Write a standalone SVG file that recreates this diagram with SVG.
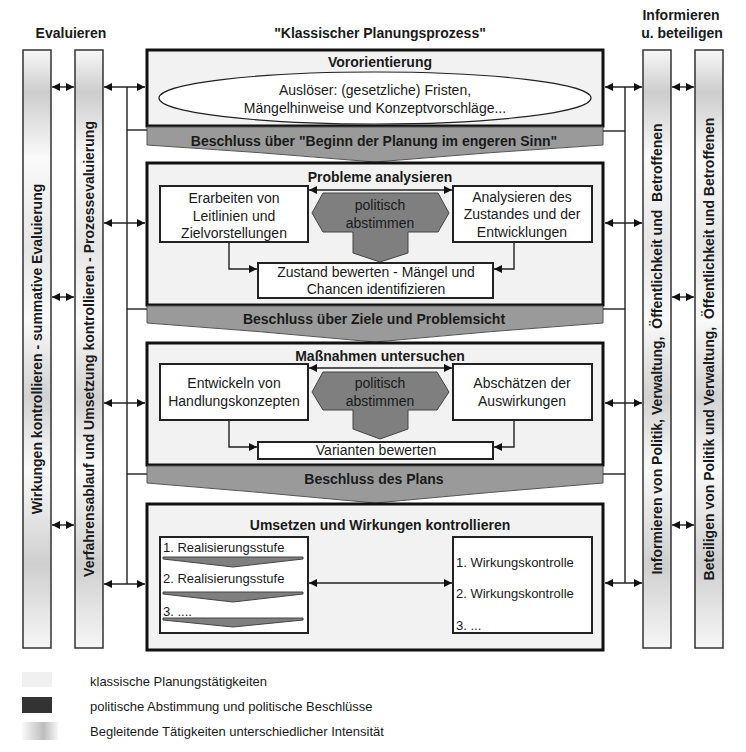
<svg xmlns="http://www.w3.org/2000/svg" width="746" height="752" viewBox="0 0 746 752">
<style>
text{font-family:"Liberation Sans",Arial,sans-serif;fill:#1a1a1a}
.h{font-size:14px;font-weight:bold;text-anchor:middle}
.t{font-size:14px;text-anchor:middle}
.s{font-size:13px}
.v{font-size:14px;font-weight:bold;text-anchor:middle;white-space:pre}
.main{fill:#f2f2f2;stroke:#111;stroke-width:3}
.wb{fill:#fff;stroke:#222;stroke-width:2}
.ban{fill:#9a9a9a;stroke:#555;stroke-width:1}
.pol{fill:#7f7f7f;stroke:#444;stroke-width:1}
.bar{stroke:#333;stroke-width:1.5}
.c{fill:none;stroke:#222;stroke-width:1.4}
.a{marker-start:url(#ah);marker-end:url(#ah)}
.e{marker-end:url(#ah)}
</style>
<defs>
<marker id="ah" viewBox="0 0 8 8" refX="8" refY="4" markerWidth="8" markerHeight="8" markerUnits="userSpaceOnUse" orient="auto-start-reverse"><path d="M0,0 L8,4 L0,8 z" fill="#111"/></marker>
<linearGradient id="gb" x1="0" y1="0" x2="0" y2="1">
<stop offset="0" stop-color="#f8f8f8"/>
<stop offset="0.07" stop-color="#cdcdcd"/>
<stop offset="0.18" stop-color="#fafafa"/>
<stop offset="0.33" stop-color="#e6e6e6"/>
<stop offset="0.45" stop-color="#fafafa"/>
<stop offset="0.58" stop-color="#d2d2d2"/>
<stop offset="0.7" stop-color="#fafafa"/>
<stop offset="0.86" stop-color="#cfcfcf"/>
<stop offset="1" stop-color="#f6f6f6"/>
</linearGradient>
<linearGradient id="gl" x1="0" y1="0" x2="1" y2="0">
<stop offset="0" stop-color="#fafafa"/>
<stop offset="0.6" stop-color="#bdbdbd"/>
<stop offset="1" stop-color="#f6f6f6"/>
</linearGradient>
</defs>

<g id="headers">
<text class="h" x="71" y="38">Evaluieren</text>
<text class="h" x="380" y="38">"Klassischer Planungsprozess"</text>
<text class="h" x="681" y="20">Informieren</text>
<text class="h" x="682" y="38">u. beteiligen</text>
</g>

<g id="bar-summativ">
<rect class="bar" x="23" y="50" width="28" height="598" fill="url(#gb)"/>
<text class="v" transform="translate(42,349) rotate(-90)">Wirkungen kontrollieren - summative Evaluierung</text>
</g>
<g id="bar-prozess">
<rect class="bar" x="75" y="50" width="28" height="598" fill="url(#gb)"/>
<text class="v" transform="translate(94,349) rotate(-90)">Verfahrensablauf und Umsetzung kontrollieren - Prozessevaluierung</text>
</g>
<g id="bar-informieren">
<rect class="bar" x="643" y="50" width="28" height="598" fill="url(#gb)"/>
<text class="v" transform="translate(662,349) rotate(-90)">Informieren von Politik, Verwaltung,  Öffentlichkeit und  Betroffenen</text>
</g>
<g id="bar-beteiligen">
<rect class="bar" x="695" y="50" width="28" height="598" fill="url(#gb)"/>
<text class="v" transform="translate(714,349) rotate(-90)">Beteiligen von Politik und Verwaltung,  Öffentlichkeit und Betroffenen</text>
</g>

<g id="vororientierung">
<rect class="main" x="147" y="50" width="456" height="76"/>
<text class="h" x="380" y="67">Vororientierung</text>
<ellipse cx="375" cy="98" rx="216" ry="26" fill="#fff" stroke="#222" stroke-width="1.2"/>
<text class="t" x="375" y="95">Auslöser: (gesetzliche) Fristen,</text>
<text class="t" x="375" y="113">Mängelhinweise und Konzeptvorschläge...</text>
</g>

<g id="beschluss-beginn">
<path class="ban" d="M147,127 L603,127 L603,145 Q490,152 375,162 Q260,152 147,145 Z"/>
<text class="h" x="374" y="146">Beschluss über "Beginn der Planung im engeren Sinn"</text>
</g>

<g id="probleme">
<rect class="main" x="147" y="163" width="456" height="142"/>
<text class="h" x="380" y="182">Probleme analysieren</text>
<rect class="wb" x="160" y="186" width="148" height="56"/>
<text class="t" x="234" y="203">Erarbeiten von</text>
<text class="t" x="234" y="221">Leitlinien und</text>
<text class="t" x="234" y="238">Zielvorstellungen</text>
<rect class="wb" x="453" y="186" width="139" height="56"/>
<text class="t" x="522" y="202">Analysieren des</text>
<text class="t" x="522" y="219">Zustandes und der</text>
<text class="t" x="522" y="237">Entwicklungen</text>
<polygon class="pol" points="323,193 438,193 449,213 438,232 408,232 408,253 380,262 353,253 353,232 323,232 312,213"/>
<text class="t" x="380" y="210">politisch</text>
<text class="t" x="380" y="228">abstimmen</text>
<rect class="wb" x="258" y="263" width="235" height="35"/>
<text class="t" x="376" y="277">Zustand bewerten - Mängel und</text>
<text class="t" x="376" y="294">Chancen identifizieren</text>
</g>

<g id="beschluss-ziele">
<path class="ban" d="M147,306 L603,306 L603,323 Q490,331 375,342 Q260,331 147,323 Z"/>
<text class="h" x="374" y="324">Beschluss über Ziele und Problemsicht</text>
</g>

<g id="massnahmen">
<rect class="main" x="147" y="343" width="456" height="122"/>
<text class="h" x="380" y="361">Maßnahmen untersuchen</text>
<rect class="wb" x="160" y="364" width="148" height="56"/>
<text class="t" x="234" y="388">Entwickeln von</text>
<text class="t" x="234" y="406">Handlungskonzepten</text>
<rect class="wb" x="453" y="364" width="139" height="56"/>
<text class="t" x="522" y="388">Abschätzen der</text>
<text class="t" x="522" y="406">Auswirkungen</text>
<polygon class="pol" points="323,372 437,372 449,392 437,410 408,410 408,429 380,439 353,429 353,410 323,410 312,392"/>
<text class="t" x="380" y="388">politisch</text>
<text class="t" x="380" y="406">abstimmen</text>
<rect class="wb" x="258" y="442" width="235" height="17"/>
<text class="t" x="376" y="455">Varianten bewerten</text>
</g>

<g id="beschluss-plan">
<path class="ban" d="M147,466 L603,466 L603,483 Q490,492 375,503 Q260,492 147,483 Z"/>
<text class="h" x="374" y="484">Beschluss des Plans</text>
</g>

<g id="umsetzen">
<rect class="main" x="147" y="504" width="456" height="146"/>
<text class="h" x="380" y="530">Umsetzen und Wirkungen kontrollieren</text>
<rect class="wb" x="160" y="537" width="148" height="96"/>
<text class="s" x="163" y="552">1. Realisierungsstufe</text>
<polygon class="pol" points="163,557 303,557 303,559 233,567 163,559"/>
<text class="s" x="163" y="583">2. Realisierungsstufe</text>
<polygon class="pol" points="163,592 303,592 303,594 233,602 163,594"/>
<text class="s" x="163" y="616">3. ....</text>
<polygon class="pol" points="163,618 303,618 303,620 233,627 163,620"/>
<rect class="wb" x="453" y="537" width="139" height="96"/>
<text class="s" x="456" y="567">1. Wirkungskontrolle</text>
<text class="s" x="456" y="598">2. Wirkungskontrolle</text>
<text class="s" x="456" y="630">3. ...</text>
</g>

<g id="connectors">
<line class="c a" x1="52" y1="87" x2="74" y2="87"/>
<line class="c a" x1="52" y1="297" x2="74" y2="297"/>
<line class="c a" x1="52" y1="525" x2="74" y2="525"/>
<line class="c a" x1="672" y1="87" x2="694" y2="87"/>
<line class="c a" x1="672" y1="297" x2="694" y2="297"/>
<line class="c a" x1="672" y1="525" x2="694" y2="525"/>
<line class="c" x1="127" y1="87" x2="127" y2="584"/>
<line class="c" x1="625" y1="87" x2="625" y2="583"/>
<line class="c a" x1="104" y1="87" x2="145" y2="87"/>
<line class="c a" x1="104" y1="223" x2="145" y2="223"/>
<line class="c a" x1="104" y1="403" x2="145" y2="403"/>
<line class="c a" x1="104" y1="584" x2="145" y2="584"/>
<line class="c a" x1="605" y1="87" x2="642" y2="87"/>
<line class="c a" x1="605" y1="223" x2="642" y2="223"/>
<line class="c a" x1="605" y1="403" x2="642" y2="403"/>
<line class="c a" x1="605" y1="583" x2="642" y2="583"/>
<line class="c" x1="127" y1="130" x2="147" y2="130"/>
<line class="c" x1="127" y1="309" x2="147" y2="309"/>
<line class="c" x1="127" y1="474" x2="147" y2="474"/>
<line class="c" x1="603" y1="131" x2="625" y2="131"/>
<line class="c" x1="603" y1="309" x2="625" y2="309"/>
<line class="c" x1="603" y1="474" x2="625" y2="474"/>
<line class="c a" x1="309" y1="190" x2="452" y2="190"/>
<line class="c a" x1="309" y1="368" x2="452" y2="368"/>
<line class="c a" x1="309" y1="583" x2="452" y2="583"/>
<polyline class="c e" points="229,243 229,269 257,269"/>
<polyline class="c e" points="514,243 514,269 494,269"/>
<polyline class="c e" points="229,421 229,447 257,447"/>
<polyline class="c e" points="514,421 514,447 494,447"/>
</g>

<g id="legend">
<rect x="22" y="672" width="30" height="15" fill="#f0f0f0"/>
<text class="s" x="90" y="686">klassische Planungstätigkeiten</text>
<rect x="22" y="697" width="30" height="16" fill="#333"/>
<text class="s" x="90" y="711">politische Abstimmung und politische Beschlüsse</text>
<rect x="22" y="722" width="36" height="18" fill="url(#gl)"/>
<text class="s" x="90" y="736">Begleitende Tätigkeiten unterschiedlicher Intensität</text>
</g>
</svg>
